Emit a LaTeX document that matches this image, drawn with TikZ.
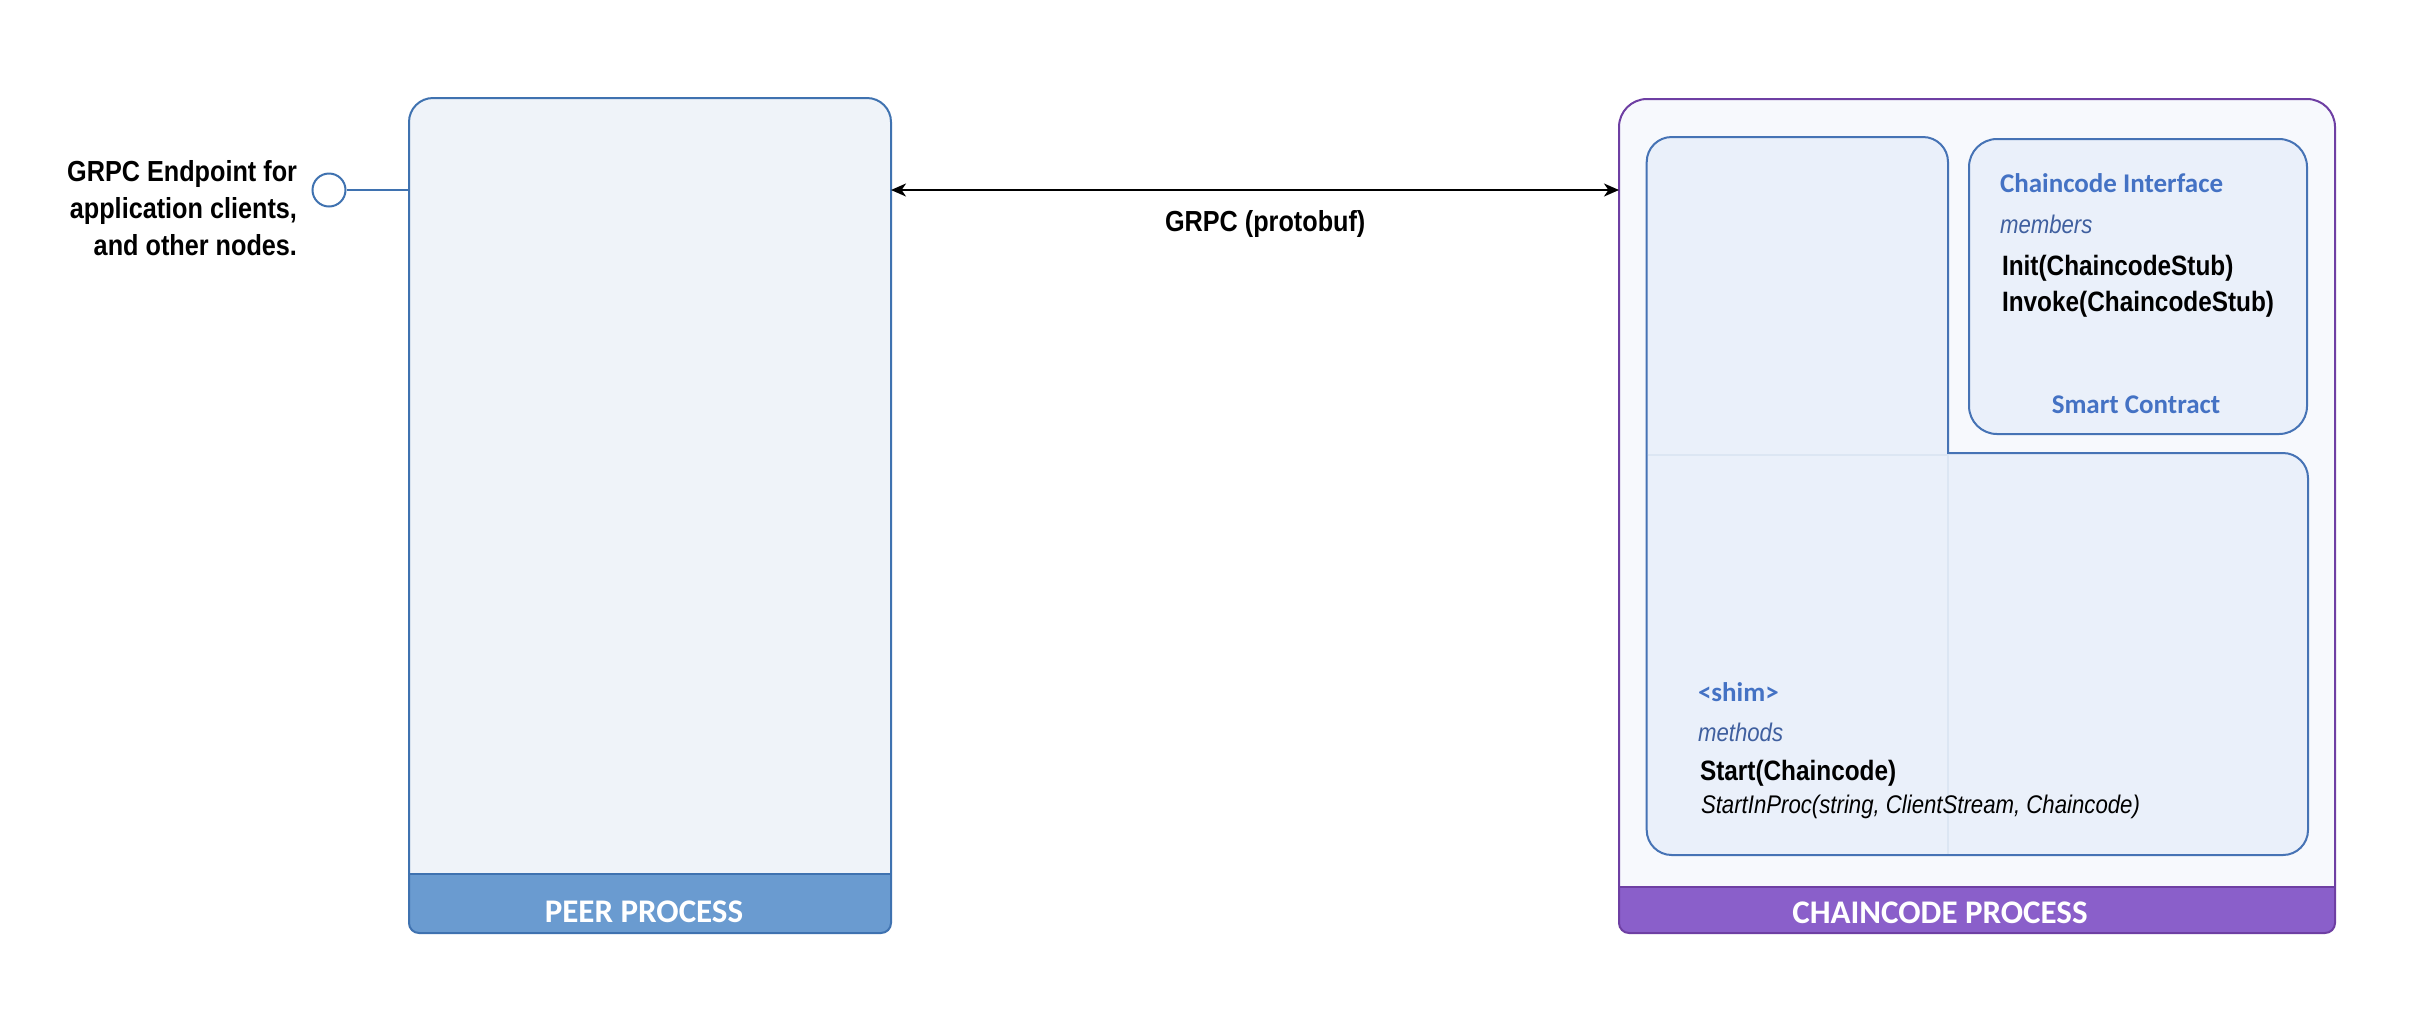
\documentclass[tikz,border=0pt]{standalone}
\usepackage{fontspec}
\setmainfont{Liberation Sans}
\newfontfamily\carl{Carlito}
\newfontfamily\narrowf[FakeStretch=0.87]{Liberation Sans}
\usetikzlibrary{arrows.meta}
\definecolor{peerfill}{HTML}{EFF3F9}
\definecolor{peerline}{HTML}{3F72B0}
\definecolor{peerband}{HTML}{6A9BD0}
\definecolor{ccfill}{HTML}{F7F9FD}
\definecolor{ccline}{HTML}{6E3FA3}
\definecolor{ccband}{HTML}{8A5FCA}
\definecolor{innerfill}{HTML}{EAF0FA}
\definecolor{innerline}{HTML}{4673B5}
\definecolor{faint}{HTML}{DCE6F3}
\definecolor{titleblue}{HTML}{4472C4}
\definecolor{subblue}{HTML}{3F5F9F}
\newcommand{\fsz}[1]{\fontsize{#1}{#1}\selectfont}
\tikzset{
  txt/.style={inner sep=0pt, outer sep=0pt},
  boxline/.style={line width=1pt},
  title/.style={txt, font=\carl\bfseries\fsz{13.5pt}, text=titleblue},
  sub/.style={txt, font=\narrowf\itshape\fsz{12.75pt}, text=subblue},
  member/.style={txt, font=\narrowf\bfseries\fsz{14pt}, text=black},
  band/.style={txt, font=\carl\bfseries\fsz{16.5pt}, text=white},
  lbl/.style={txt, font=\narrowf\bfseries\fsz{14.5pt}, text=black},
}
\begin{document}
\begin{tikzpicture}[x=0.5pt,y=-0.5pt]
\useasboundingbox (0,0) rectangle (2436,1014);

% ---------- PEER PROCESS ----------
\fill[peerband, rounded corners=12pt] (409,500) -- (409,98) -- (891,98) -- (891,500) [rounded corners=5pt] -- (891,933) -- (409,933) -- cycle;
\begin{scope}
\clip (0,0) rectangle (2436,874);
\fill[peerfill, rounded corners=12pt] (409,500) -- (409,98) -- (891,98) -- (891,500) [rounded corners=5pt] -- (891,933) -- (409,933) -- cycle;
\end{scope}
\draw[peerline, boxline, rounded corners=12pt] (409,500) -- (409,98) -- (891,98) -- (891,500) [rounded corners=5pt] -- (891,933) -- (409,933) -- cycle;
\draw[peerline, boxline] (409,874) -- (891,874);
\node[band, anchor=base] (peerlbl) at (644,922) {PEER PROCESS};
\node[txt, minimum width=241pt, minimum height=417.5pt] (peer) at (650,515.5) {};

% ---------- CHAINCODE PROCESS ----------
\fill[ccband, rounded corners=14pt] (1619,500) -- (1619,99) -- (2335,99) -- (2335,500) [rounded corners=5pt] -- (2335,933) -- (1619,933) -- cycle;
\begin{scope}
\clip (0,0) rectangle (2436,887);
\fill[ccfill, rounded corners=14pt] (1619,500) -- (1619,99) -- (2335,99) -- (2335,500) [rounded corners=5pt] -- (2335,933) -- (1619,933) -- cycle;
\end{scope}
\draw[ccline, boxline, rounded corners=14pt] (1619,500) -- (1619,99) -- (2335,99) -- (2335,500) [rounded corners=5pt] -- (2335,933) -- (1619,933) -- cycle;
\draw[ccline, boxline] (1619,887) -- (2335,887);
\node[band, anchor=base] (cclbl) at (1940,923) {CHAINCODE PROCESS};
\node[txt, minimum width=358pt, minimum height=417pt] (cc) at (1977,516) {};

% inner L-shaped shim box
\draw[innerline, boxline, fill=innerfill, rounded corners=12.5pt]
  (1646.7,600) -- (1646.7,137) -- (1948,137)
  [sharp corners] -- (1948,453)
  [rounded corners=12.5pt] -- (2308,453) -- (2308,855) -- (1646.7,855) -- cycle;
\draw[faint, line width=1.2pt] (1647.7,455) -- (1947,455);
\draw[faint, line width=1pt] (1948,455) -- (1948,854);

% smart contract box
\draw[innerline, boxline, fill=innerfill, rounded corners=14pt] (1969,139) rectangle (2307,434);
\node[title, anchor=base west] (ci) at (2000,192) {Chaincode Interface};
\node[sub, anchor=base west] (mem) at (2000,233) {members};
\node[member, anchor=base west] (init) at (2002,275) {Init(ChaincodeStub)};
\node[member, anchor=base west] (invoke) at (2002,311) {Invoke(ChaincodeStub)};
\node[title, anchor=base] (sc) at (2136,413) {Smart Contract};

% shim texts
\node[title, anchor=base west] (shim) at (1698,701) {<shim>};
\node[sub, anchor=base west] (meth) at (1698,741) {methods};
\node[member, anchor=base west] (start) at (1700,780) {Start(Chaincode)};
\node[txt, font=\narrowf\itshape\fsz{12.75pt}, anchor=base west] (sip) at (1701,813) {StartInProc(string, ClientStream, Chaincode)};

% ---------- endpoint ----------
\node[circle, draw=peerline, line width=1pt, fill=white, inner sep=0pt, minimum size=16.5pt] (ep) at (329,190) {};
\coordinate (peerin) at (409,190);
\draw[peerline, line width=1pt] (ep.east) -- (peerin);
\node[lbl, anchor=base east] (ep1) at (297,181) {GRPC Endpoint for};
\node[lbl, anchor=base east] (ep2) at (297,218) {application clients,};
\node[lbl, anchor=base east] (ep3) at (297,255) {and other nodes.};

% ---------- GRPC connector ----------
\coordinate (pa) at (891,190);
\coordinate (ca) at (1619,190);
\draw[line width=1pt, {Stealth[length=7.5pt,width=6.5pt,inset=2.2pt]}-{Stealth[length=7.5pt,width=6.5pt,inset=2.2pt]}] (pa) -- (ca);
\node[lbl, anchor=base west] (grpc) at (1165,231) {GRPC (protobuf)};
\end{tikzpicture}
\end{document}
